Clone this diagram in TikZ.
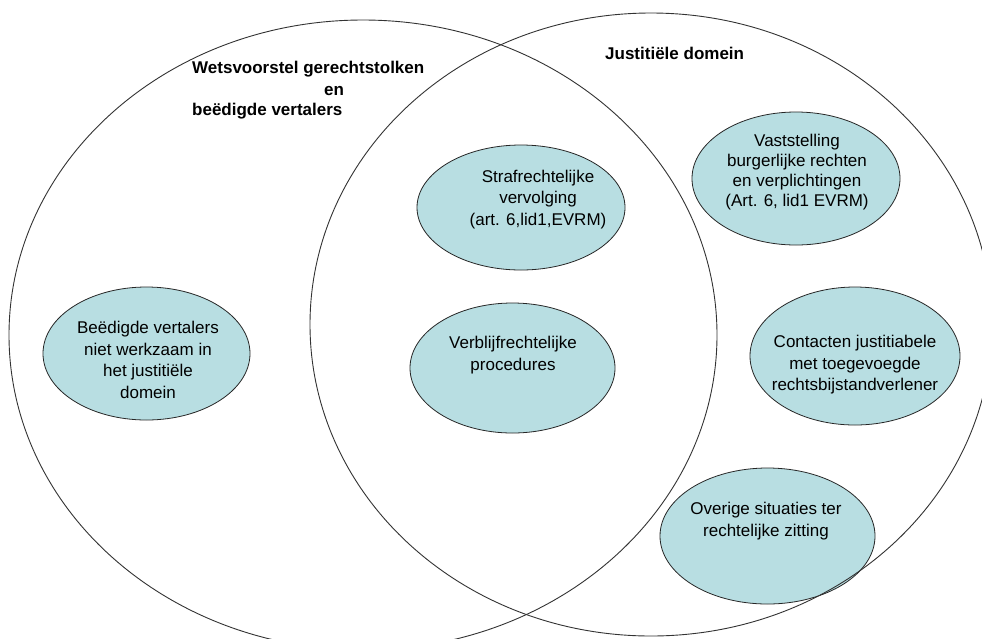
\documentclass[tikz,border=0pt]{standalone}
\usepackage{fontspec}
\setmainfont{Liberation Sans}
\usetikzlibrary{shapes.geometric}
\definecolor{blobfill}{HTML}{B8DEE2}
\definecolor{lineg}{HTML}{333333}
\begin{document}
\begin{tikzpicture}[x=1pt,y=-1pt,
  blob/.style={ellipse, draw=black!85, line width=0.8pt, fill=blobfill, inner sep=0pt},
  txt/.style={align=center, font=\fontsize{17}{21.5}\selectfont, inner sep=0pt},
  title/.style={font=\bfseries\fontsize{17}{20}\selectfont, inner sep=0pt, anchor=west},
  big/.style={draw=lineg, line width=0.9pt}]
\useasboundingbox (0,0) rectangle (982,638);
\fill[white] (0,0) rectangle (982,638);

% inner ellipses
\node[blob, minimum width=207pt, minimum height=133pt] (beed) at (146.5,353.5) {};
\node[txt] (beedt) at (148,360) {Beëdigde vertalers\\niet werkzaam in\\het justitiële\\domein};

\node[blob, minimum width=208pt, minimum height=125pt] (straf) at (521,207.5) {};
\node[txt] (straft) at (538,199.5) {Strafrechtelijke\\vervolging\\(art. 6,lid1,EVRM)};

\node[blob, minimum width=205pt, minimum height=130pt] (verbl) at (512.5,368) {};
\node[txt] (verblt) at (513,355) {Verblijfrechtelijke\\procedures};

\node[blob, minimum width=208pt, minimum height=133pt] (vast) at (796,178.5) {};
\node[txt, font=\fontsize{17}{20}\selectfont] (vastt) at (797,172.5) {Vaststelling\\burgerlijke rechten\\en verplichtingen\\(Art. 6, lid1 EVRM)};

\node[blob, minimum width=210pt, minimum height=138pt] (cont) at (855,356) {};
\node[txt] (contt) at (855,365) {Contacten justitiabele\\met toegevoegde\\rechtsbijstandverlener};

\node[blob, minimum width=215pt, minimum height=136pt] (over) at (767.5,536) {};
\node[txt] (overt) at (766,521) {Overige situaties ter\\rechtelijke zitting};

% big sets
\draw[big] (363,335) ellipse [x radius=354pt, y radius=315pt];
\draw[big] (651,324.5) ellipse [x radius=341pt, y radius=311.5pt];

% titles
\node[title] (t1) at (192,69) {Wetsvoorstel gerechtstolken};
\node[title, anchor=center] (t2) at (334,91) {en};
\node[title] (t3) at (192,111) {beëdigde vertalers};
\node[title] (t4) at (605,53) {Justitiële domein};
\end{tikzpicture}
\end{document}
